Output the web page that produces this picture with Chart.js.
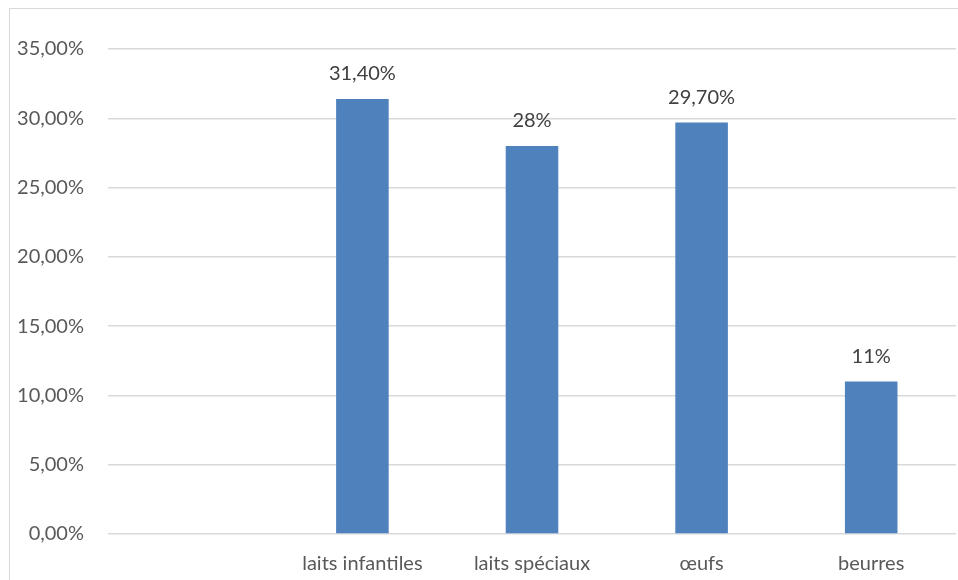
<!DOCTYPE html>
<html>
<head>
<meta charset="utf-8">
<script src="https://cdn.jsdelivr.net/npm/chart.js@4/dist/chart.umd.min.js"></script>
<style>
html,body{margin:0;padding:0;background:#fff;}
#wrap{position:relative;width:958px;height:580px;}
</style>
</head>
<body>
<div id="wrap"><canvas id="c" width="958" height="580"></canvas></div>
<script>
const categories = ["", "laits infantiles", "laits spéciaux", "œufs", "beurres"];
const values = [null, 0.314, 0.28, 0.297, 0.11];
const valueLabels = ["", "31,40%", "28%", "29,70%", "11%"];
const yTicks = [0, 0.05, 0.10, 0.15, 0.20, 0.25, 0.30, 0.35];

const FONT = "Lato";

const frame = {
  id: 'frame',
  beforeDraw(chart) {
    const ctx = chart.ctx;
    ctx.save();
    ctx.fillStyle = '#fff';
    ctx.fillRect(0, 0, chart.width, chart.height);
    ctx.strokeStyle = '#D9D9D9';
    ctx.lineWidth = 1;
    ctx.strokeRect(9.5, 8.5, 1000, 1000);
    ctx.restore();
  }
};

const dataLabels = {
  id: 'dataLabels',
  afterDatasetsDraw(chart) {
    const ctx = chart.ctx;
    const meta = chart.getDatasetMeta(0);
    ctx.save();
    ctx.font = '20px ' + FONT;
    ctx.fillStyle = '#404040';
    ctx.textAlign = 'center';
    ctx.textBaseline = 'middle';
    meta.data.forEach((el, i) => {
      if (values[i] == null) return;
      ctx.fillText(valueLabels[i], el.x, el.y - 25);
    });
    ctx.restore();
  }
};

new Chart(document.getElementById('c'), {
  type: 'bar',
  data: {
    labels: categories,
    datasets: [{
      data: values,
      backgroundColor: '#4F81BD',
      borderWidth: 0,
      categoryPercentage: 1,
      barPercentage: 0.31
    }]
  },
  options: {
    responsive: false,
    animation: false,
    devicePixelRatio: 1,
    layout: { padding: { top: 49, right: 2, left: 0, bottom: 0 } },
    plugins: { legend: { display: false }, tooltip: { enabled: false } },
    scales: {
      x: {
        grid: { display: false, drawTicks: false },
        border: { display: false },
        ticks: { color: '#595959', font: { family: FONT, size: 20 }, padding: 18, maxRotation: 0, autoSkip: false },
        afterFit(s) { s.height = 46; }
      },
      y: {
        min: 0, max: 0.35,
        afterBuildTicks(s) { s.ticks = yTicks.map(v => ({ value: v })); },
        grid: { color: '#D9D9D9', lineWidth: 1.5, drawTicks: false },
        border: { display: false },
        ticks: {
          color: '#595959', font: { family: FONT, size: 20 }, padding: 24,
          callback: v => (v * 100).toFixed(2).replace('.', ',') + '%'
        },
        afterFit(s) { s.width = 108; }
      }
    }
  },
  plugins: [frame, dataLabels]
});
</script>
</body>
</html>
